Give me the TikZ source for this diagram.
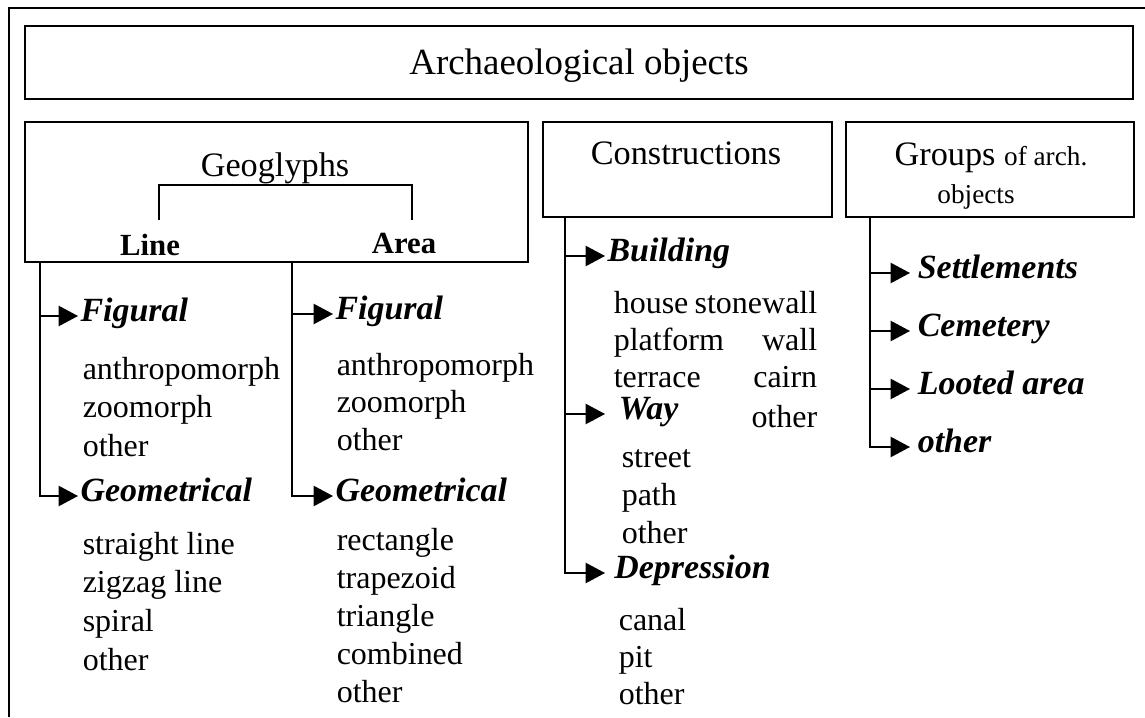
\documentclass[tikz,border=0pt]{standalone}
\usepackage{fontspec}
\setmainfont{Liberation Serif}
\usetikzlibrary{arrows.meta, positioning}

\begin{document}
\begin{tikzpicture}[x=0.2mm, y=-0.2mm, line width=0.9pt,
      box/.style={draw, line width=1.1pt, inner sep=0pt},
      head/.style={font=\fontsize{19.5}{23}\selectfont, anchor=base, inner sep=0pt},
      sub/.style={font=\fontsize{17.5}{21}\selectfont\bfseries, anchor=base, inner sep=0pt},
      cat/.style={font=\fontsize{19.3}{23}\selectfont\bfseries\itshape, anchor=west,
                  inner sep=1pt, text height=1.5ex, text depth=.25ex},
      item/.style={font=\fontsize{18.2}{21}\selectfont, anchor=base west, inner sep=0pt},
      arr/.style={-{Triangle[length=11pt,width=11.5pt]}, line width=0.9pt}]
      \useasboundingbox (0,0) rectangle (1145,717);
      % frame
      \draw[line width=1.1pt] (9,717) -- (9,8) -- (1145,8);
      % title
      \node[box, minimum width=221.6mm, minimum height=14.6mm] (title) at (579,62.5) {};
      \node[head, font=\fontsize{21}{25}\selectfont] (titlet) at (579,75) {Archaeological objects};
      % Geoglyphs
      \node[box, minimum width=100.6mm, minimum height=28mm] (geo) at (276.5,192) {};
      \node[head] (geot) at (275,177) {Geoglyphs};
      \node[sub] (linet) at (150,255) {Line};
      \node[sub] (areat) at (404,253) {Area};
      \coordinate (lineup) at (159,220);
      \coordinate (areaup) at (412,220);
      \draw (lineup) -- ++(0,-35) -| (areaup);
      % Constructions
      \node[box, minimum width=57.8mm, minimum height=19mm] (con) at (687.5,169.5) {};
      \node[head] (cont) at (686,165) {Constructions};
      % Groups
      \node[box, minimum width=57.6mm, minimum height=19mm] (grp) at (990,169.5) {};
      \node[head] (grpt) at (991,166) {Groups {\fontsize{15.5}{18}\selectfont of arch.}};
      \node[head, font=\fontsize{15.5}{18}\selectfont] (grpo) at (976,204) {objects};

      % Line branch
      \coordinate (lroot) at (40,262);
      \node[cat] (lfig) at (78,316) {Figural};
      \node[cat] (lgeom) at (78,496) {Geometrical};
      \draw[arr] (lroot) |- (lfig.west);
      \draw[arr] (lroot) |- (lgeom.west);
      \foreach \t/\y in {anthropomorph/379, zoomorph/417, other/456}
        \node[item] (lf\y) at (82,\y) {\t};
      \foreach \t/\y in {straight line/554, zigzag line/592, spiral/631, other/670}
        \node[item] (lg\y) at (82,\y) {\t};

      % Area branch
      \coordinate (aroot) at (292,262);
      \node[cat] (afig) at (333,314) {Figural};
      \node[cat] (ageom) at (333,496) {Geometrical};
      \draw[arr] (aroot) |- (afig.west);
      \draw[arr] (aroot) |- (ageom.west);
      \foreach \t/\y in {anthropomorph/375, zoomorph/412, other/450}
        \node[item] (af\y) at (336,\y) {\t};
      \foreach \t/\y in {rectangle/550, trapezoid/588, triangle/626, combined/664, other/702}
        \node[item] (ag\y) at (336,\y) {\t};

      % Constructions branch
      \coordinate (croot) at (565,217);
      \node[cat] (cbld) at (605,256) {Building};
      \node[cat, inner xsep=2.6mm] (cway) at (605,414) {Way};
      \node[cat, inner xsep=1.7mm] (cdep) at (605,573) {Depression};
      \draw[arr] (croot) |- (cbld.west);
      \draw[arr] (croot) |- (cway.west);
      \draw[arr] (croot) |- (cdep.west);
      \foreach \t/\y in {house/313, platform/350, terrace/387}
        \node[item] (cb\y) at (613,\y) {\t};
      \foreach \t/\y in {stonewall/313, wall/350, cairn/387}
        \node[item, anchor=base east] (cr\y) at (818,\y) {\t};
      \node[item, anchor=base east] (cr427) at (818,427) {other};
      \foreach \t/\y in {street/467, path/505, other/543}
        \node[item] (cw\y) at (621,\y) {\t};
      \foreach \t/\y in {canal/630, pit/667, other/704}
        \node[item] (cd\y) at (618,\y) {\t};

      % Groups branch
      \coordinate (groot) at (870,217);
      \foreach \t/\y in {Settlements/273, Cemetery/331, Looted area/389, other/447} {
        \node[cat, inner xsep=4pt] (g\y) at (910,\y) {\t};
        \draw[arr] (groot) |- (g\y.west);
      }
    \end{tikzpicture}
\end{document}
